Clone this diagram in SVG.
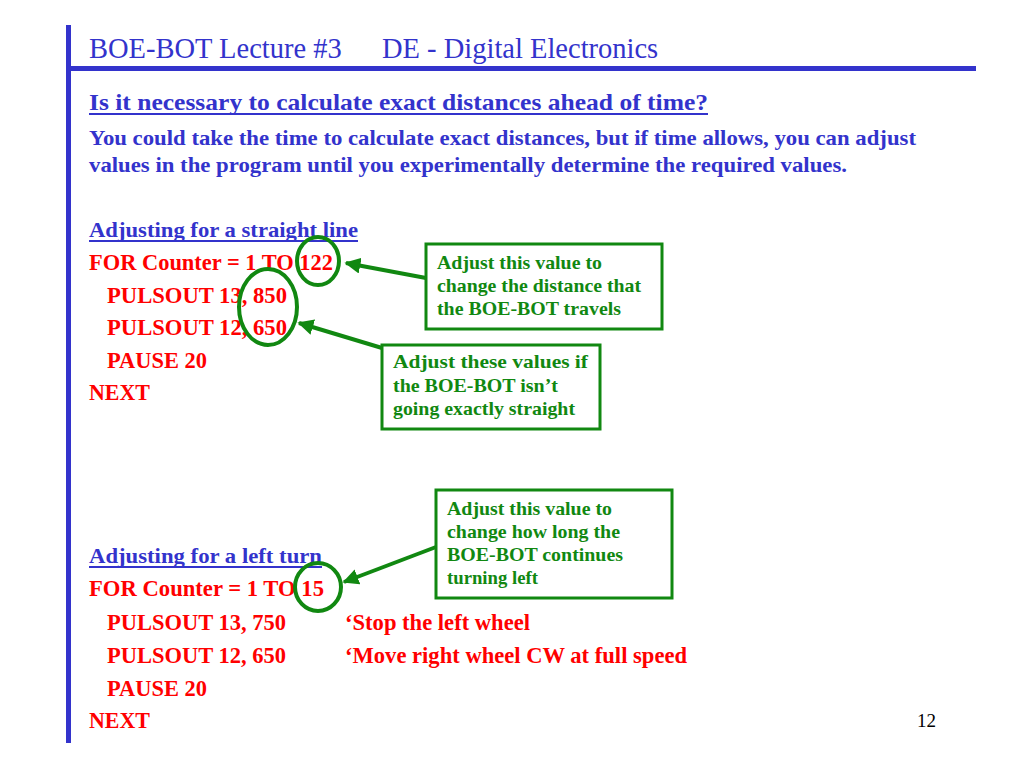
<svg xmlns="http://www.w3.org/2000/svg" width="1024" height="768" viewBox="0 0 1024 768">
<defs>
<style>
.t{font-family:"Liberation Serif","Times New Roman",serif}
.blue{fill:#3333cc}
.b{font-weight:bold}
.red{fill:#ff0000;font-family:"Liberation Serif","Times New Roman",serif;font-weight:bold;font-size:22.5px}
.note{fill:#118811;font-family:"Liberation Serif","Times New Roman",serif;font-weight:bold;font-size:19.5px}
.box{fill:#ffffff;stroke:#118811;stroke-width:3}
.ring{fill:none;stroke:#118811;stroke-width:4}
.conn{stroke:#118811;stroke-width:4;fill:none}
</style>
<marker id="ah" viewBox="0 0 10 10" refX="9" refY="5" markerWidth="4" markerHeight="4" markerUnits="strokeWidth" orient="auto">
<path d="M0,0 L10,5 L0,10 Z" fill="#118811"/>
</marker>
</defs>
<rect width="1024" height="768" fill="#ffffff"/>
<g id="frame">
<rect x="66" y="25" width="5" height="718" fill="#3333cc"/>
<rect x="66" y="66" width="910" height="5" fill="#3333cc"/>
</g>
<g id="title">
<text class="t blue" x="89" y="58" font-size="28.5">BOE-BOT Lecture #3</text>
<text class="t blue" x="382" y="58" font-size="28.5">DE - Digital Electronics</text>
</g>
<g id="intro">
<text class="t blue b" x="89" y="110" font-size="24" textLength="619" lengthAdjust="spacingAndGlyphs">Is it necessary to calculate exact distances ahead of time?</text>
<rect x="89" y="113" width="619" height="2" fill="#3333cc"/>
<text class="t blue b" x="89" y="145" font-size="21" textLength="827" lengthAdjust="spacingAndGlyphs">You could take the time to calculate exact distances, but if time allows, you can adjust</text>
<text class="t blue b" x="89" y="172" font-size="21" textLength="758" lengthAdjust="spacingAndGlyphs">values in the program until you experimentally determine the required values.</text>
</g>
<g id="straight">
<text class="t blue b" x="89" y="237" font-size="22" textLength="269" lengthAdjust="spacingAndGlyphs">Adjusting for a straight line</text>
<rect x="89" y="240" width="269" height="2" fill="#3333cc"/>
<text class="red" x="89" y="270" textLength="244" lengthAdjust="spacingAndGlyphs">FOR Counter = 1 TO 122</text>
<text class="red" x="107" y="303" textLength="180" lengthAdjust="spacingAndGlyphs">PULSOUT 13, 850</text>
<text class="red" x="107" y="335" textLength="180" lengthAdjust="spacingAndGlyphs">PULSOUT 12, 650</text>
<text class="red" x="107" y="368" textLength="100" lengthAdjust="spacingAndGlyphs">PAUSE 20</text>
<text class="red" x="89" y="400" textLength="61" lengthAdjust="spacingAndGlyphs">NEXT</text>
</g>
<g id="leftturn">
<text class="t blue b" x="89" y="563" font-size="22" textLength="233" lengthAdjust="spacingAndGlyphs">Adjusting for a left turn</text>
<rect x="89" y="566" width="233" height="2" fill="#3333cc"/>
<text class="red" x="89" y="596" textLength="235" lengthAdjust="spacingAndGlyphs">FOR Counter = 1 TO 15</text>
<text class="red" x="107" y="630" textLength="179" lengthAdjust="spacingAndGlyphs">PULSOUT 13, 750</text>
<text class="red" x="345" y="630" textLength="185" lengthAdjust="spacingAndGlyphs">‘Stop the left wheel</text>
<text class="red" x="107" y="663" textLength="179" lengthAdjust="spacingAndGlyphs">PULSOUT 12, 650</text>
<text class="red" x="345" y="663" textLength="342" lengthAdjust="spacingAndGlyphs">‘Move right wheel CW at full speed</text>
<text class="red" x="107" y="696" textLength="100" lengthAdjust="spacingAndGlyphs">PAUSE 20</text>
<text class="red" x="89" y="728" textLength="61" lengthAdjust="spacingAndGlyphs">NEXT</text>
</g>
<g id="rings">
<ellipse class="ring" cx="318" cy="261" rx="21" ry="24"/>
<ellipse class="ring" cx="268" cy="307" rx="29" ry="38"/>
<ellipse class="ring" cx="318" cy="587" rx="23" ry="24"/>
</g>
<g id="connectors">
<line class="conn" x1="426" y1="278" x2="346" y2="263" marker-end="url(#ah)"/>
<line class="conn" x1="382" y1="348" x2="299" y2="323" marker-end="url(#ah)"/>
<line class="conn" x1="436" y1="547" x2="344" y2="582" marker-end="url(#ah)"/>
</g>
<g id="note1">
<rect class="box" x="426" y="244" width="236" height="85"/>
<text class="note" x="437" y="269" textLength="165" lengthAdjust="spacingAndGlyphs">Adjust this value to</text>
<text class="note" x="437" y="292" textLength="204" lengthAdjust="spacingAndGlyphs">change the distance that</text>
<text class="note" x="437" y="315" textLength="184" lengthAdjust="spacingAndGlyphs">the BOE-BOT travels</text>
</g>
<g id="note2">
<rect class="box" x="382" y="345" width="218" height="84"/>
<text class="note" x="393" y="368" textLength="195" lengthAdjust="spacingAndGlyphs">Adjust these values if</text>
<text class="note" x="393" y="392" textLength="165" lengthAdjust="spacingAndGlyphs">the BOE-BOT isn’t</text>
<text class="note" x="393" y="415" textLength="182" lengthAdjust="spacingAndGlyphs">going exactly straight</text>
</g>
<g id="note3">
<rect class="box" x="436" y="490" width="236" height="108"/>
<text class="note" x="447" y="515" textLength="165" lengthAdjust="spacingAndGlyphs">Adjust this value to</text>
<text class="note" x="447" y="538" textLength="173" lengthAdjust="spacingAndGlyphs">change how long the</text>
<text class="note" x="447" y="561" textLength="176" lengthAdjust="spacingAndGlyphs">BOE-BOT continues</text>
<text class="note" x="447" y="584" textLength="91" lengthAdjust="spacingAndGlyphs">turning left</text>
</g>
<g id="pagenum">
<text class="t" x="917" y="727" font-size="19" fill="#000000">12</text>
</g>
</svg>
